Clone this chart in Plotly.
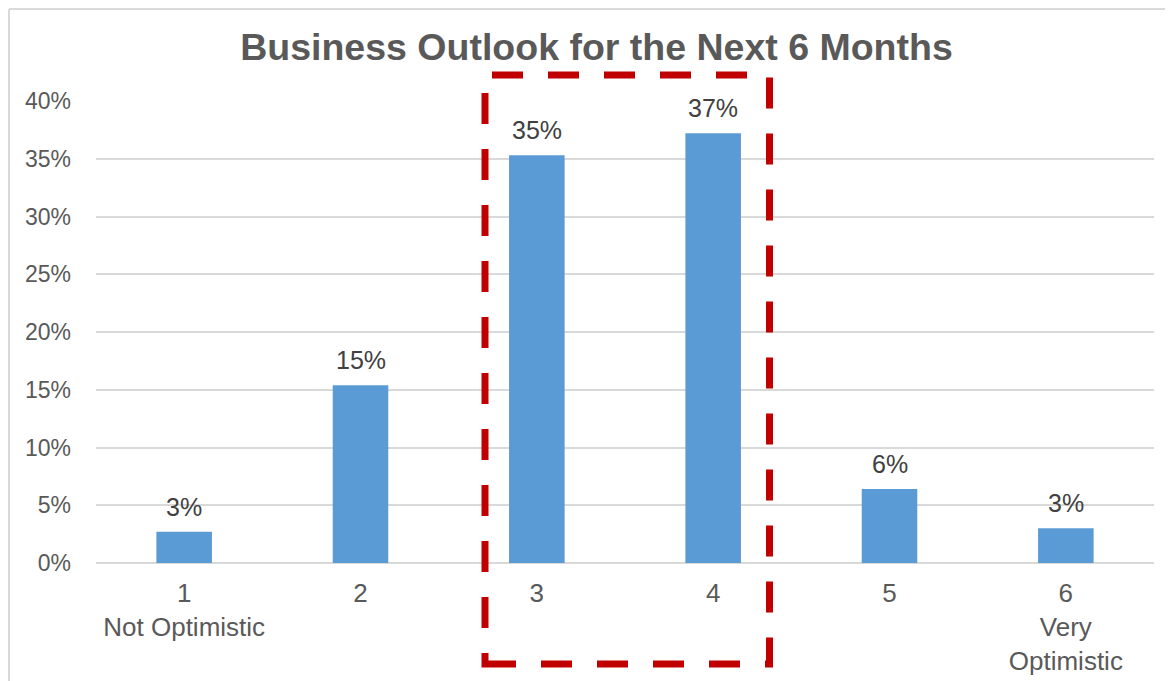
import plotly.graph_objects as go

categories = ["1<br>Not Optimistic", "2", "3", "4", "5", "6<br>Very<br>Optimistic"]
shares = [0.027, 0.154, 0.353, 0.372, 0.064, 0.030]
y_ticks = [0, 0.05, 0.10, 0.15, 0.20, 0.25, 0.30, 0.35, 0.40]
y_tick_labels = ["0%", "5%", "10%", "15%", "20%", "25%", "30%", "35%", "40%"]
title_text = "Business Outlook for the Next 6 Months"

FONT = "Liberation Sans, Arial, sans-serif"
GRID = "#d9d9d9"

# page offset (browser body margin)
OFF = 8
W, H = 1173 - OFF, 681 - OFF
L, R, T, B = 96 - OFF, 19, 101 - OFF, 681 - 563
PW, PH = W - L - R, H - T - B


def px(X):
    return (X - OFF - L) / PW


def py(Y):
    return (H - B - (Y - OFF)) / PH


fig = go.Figure()
fig.add_trace(go.Bar(
    x=categories, y=shares, width=0.315,
    marker=dict(color="#5B9BD5", line=dict(width=0)),
    hoverinfo="skip",
))

annotations = []
for i, v in enumerate(shares):
    annotations.append(dict(
        x=i, y=v, xref="x", yref="y", text=f"{round(v*100):d}%",
        showarrow=False, yanchor="bottom", yshift=9,
        font=dict(family=FONT, size=25, color="#404040"),
    ))

shapes = [
    # red dashed highlight box
    dict(type="rect", xref="paper", yref="paper",
         x0=px(485), x1=px(769.5), y0=py(664), y1=py(75),
         line=dict(color="#C00000", width=7, dash="31px,25px"),
         fillcolor="rgba(0,0,0,0)", layer="above"),
    # chart frame (left and top)
    dict(type="line", xref="paper", yref="paper",
         x0=px(9), x1=px(9), y0=py(9), y1=py(700), line=dict(color=GRID, width=2)),
    dict(type="line", xref="paper", yref="paper",
         x0=px(9), x1=px(1200), y0=py(9), y1=py(9), line=dict(color=GRID, width=2)),
]

fig.update_layout(
    width=W, height=H,
    margin=dict(l=L, r=R, t=T, b=B, pad=0),
    paper_bgcolor="white", plot_bgcolor="white",
    showlegend=False,
    title=dict(text=f"<b>{title_text}</b>", xref="container", x=(596.5 - OFF) / W,
               y=1 - (47 - OFF) / H, yref="container", xanchor="center", yanchor="middle",
               font=dict(family=FONT, size=37.5, color="#595959")),
    xaxis=dict(showgrid=False, showline=False, zeroline=False, ticks="",
               automargin=False,
               tickfont=dict(family=FONT, size=26, color="#595959"),
               ticklabelstandoff=12),
    yaxis=dict(range=[0, 0.40], tickvals=y_ticks, ticktext=y_tick_labels,
               automargin=False,
               showgrid=True, gridcolor=GRID, gridwidth=1.5,
               zeroline=True, zerolinecolor=GRID, zerolinewidth=2,
               showline=False, ticks="",
               tickfont=dict(family=FONT, size=23, color="#595959"),
               ticklabelstandoff=24),
    annotations=annotations,
    shapes=shapes,
)

fig.write_html("out.html")
